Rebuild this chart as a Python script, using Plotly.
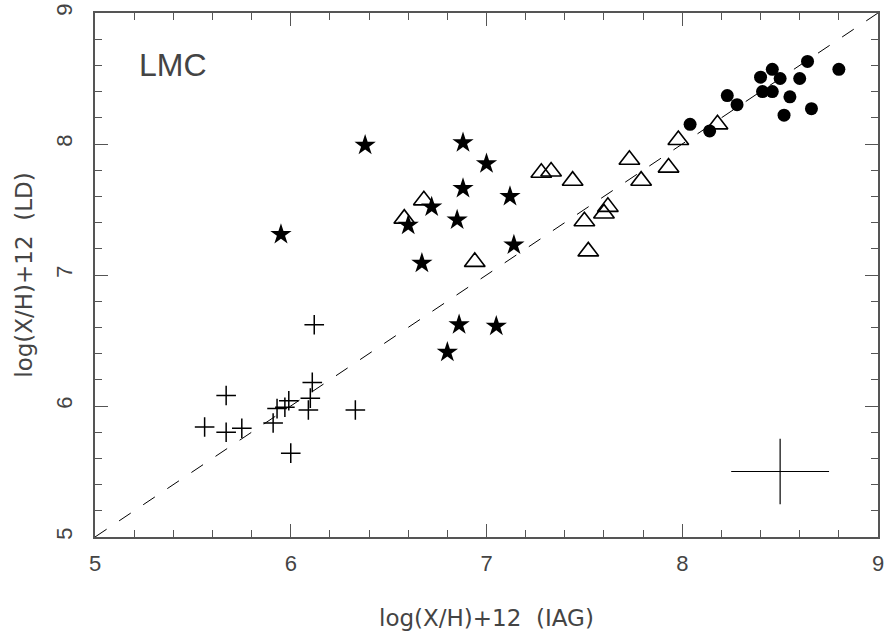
import plotly.graph_objects as go

# Filled stars
star_x = [6.38, 5.95, 6.88, 7.00, 6.88, 6.72, 6.85, 6.60, 6.67, 7.12, 7.14, 6.86, 6.80, 7.05]
star_y = [7.99, 7.31, 8.01, 7.85, 7.66, 7.52, 7.42, 7.38, 7.09, 7.60, 7.23, 6.62, 6.41, 6.61]

# Open triangles
tri_x = [6.68, 6.58, 6.94, 7.28, 7.33, 7.44, 7.73, 7.79, 7.93, 7.98, 8.18, 7.50, 7.60, 7.62, 7.52]
tri_y = [7.57, 7.43, 7.10, 7.78, 7.79, 7.72, 7.88, 7.72, 7.82, 8.03, 8.15, 7.41, 7.47, 7.52, 7.18]

# Filled circles
circ_x = [8.04, 8.14, 8.23, 8.28, 8.40, 8.46, 8.50, 8.41, 8.46, 8.55, 8.52, 8.60, 8.64, 8.66, 8.80]
circ_y = [8.15, 8.10, 8.37, 8.30, 8.51, 8.57, 8.50, 8.40, 8.40, 8.36, 8.22, 8.50, 8.63, 8.27, 8.57]

# Plus signs
plus_x = [6.12, 5.67, 5.56, 5.67, 5.75, 5.91, 5.93, 5.97, 5.99, 6.00, 6.11, 6.09, 6.10, 6.33]
plus_y = [6.62, 6.08, 5.84, 5.80, 5.83, 5.87, 5.98, 5.99, 6.04, 5.64, 6.18, 5.97, 6.06, 5.97]

# One-to-one reference line
line_x = [5, 9]
line_y = [5, 9]

# Typical error bar
err_x = [8.5]
err_y = [5.5]
err_dx = [0.25]
err_dy = [0.25]

x_label = "log(X/H)+12  (IAG)"
y_label = "log(X/H)+12  (LD)"
panel_label = "LMC"

FONT = "Liberation Sans, Arial, sans-serif"
TXT = "#444444"
AX = "#555555"

fig = go.Figure()

fig.add_trace(go.Scatter(x=line_x, y=line_y, mode="lines",
                         line=dict(color="black", width=1, dash="14px,15px"),
                         hoverinfo="skip", showlegend=False))

fig.add_trace(go.Scatter(x=plus_x, y=plus_y, mode="markers",
                         marker=dict(symbol="cross-thin-open", size=14, color="black",
                                     line=dict(color="black", width=1.5)),
                         showlegend=False))

fig.add_trace(go.Scatter(x=tri_x, y=tri_y, mode="markers",
                         marker=dict(symbol="triangle-up-open", size=18, color="black",
                                     line=dict(color="black", width=1.6)),
                         showlegend=False))

fig.add_trace(go.Scatter(x=star_x, y=star_y, mode="markers",
                         marker=dict(symbol="star", size=16, color="black",
                                     line=dict(width=0)),
                         showlegend=False))

fig.add_trace(go.Scatter(x=circ_x, y=circ_y, mode="markers",
                         marker=dict(symbol="circle", size=13, color="black",
                                     line=dict(width=0)),
                         showlegend=False))

fig.add_trace(go.Scatter(x=err_x, y=err_y, mode="markers",
                         marker=dict(size=1, color="rgba(0,0,0,0)"),
                         error_x=dict(type="data", array=err_dx, width=0, thickness=1.2, color="black"),
                         error_y=dict(type="data", array=err_dy, width=0, thickness=1.2, color="black"),
                         showlegend=False))

axis_common = dict(
    range=[5, 9], dtick=1, tick0=5, automargin=False,
    showgrid=False, zeroline=False,
    showline=True, linecolor=AX, linewidth=1.5, mirror="allticks",
    ticks="inside", ticklen=13, tickwidth=1.3, tickcolor=AX,
    minor=dict(ticks="inside", ticklen=7, tickwidth=1.1, tickcolor=AX, dtick=0.2, tick0=5, showgrid=False),
    tickfont=dict(family=FONT, size=22, color=TXT),
)

fig.update_xaxes(**axis_common, ticklabelstandoff=6)
fig.update_yaxes(**axis_common, tickangle=-90, ticklabelstandoff=12)

fig.add_annotation(x=5.215, y=8.6, xref="x", yref="y", text=panel_label, showarrow=False,
                   xanchor="left", yanchor="middle",
                   font=dict(family=FONT, size=32, color=TXT))
fig.add_annotation(x=0.5, y=-0.155, xref="paper", yref="paper", text=x_label, showarrow=False,
                   xanchor="center", yanchor="middle",
                   font=dict(family="DejaVu Sans, sans-serif", size=23, color=TXT))
fig.add_annotation(x=-0.091, y=0.5, xref="paper", yref="paper", text=y_label, showarrow=False,
                   xanchor="center", yanchor="middle", textangle=-90,
                   font=dict(family="DejaVu Sans, sans-serif", size=23, color=TXT))

fig.update_layout(
    width=888, height=636,
    margin=dict(l=95, r=10, t=13, b=99),
    plot_bgcolor="white", paper_bgcolor="white",
    showlegend=False,
)

fig.write_html("out.html",
               config={"displayModeBar": False},
               post_script="document.body.style.margin='0px';document.body.style.overflow='hidden';")
